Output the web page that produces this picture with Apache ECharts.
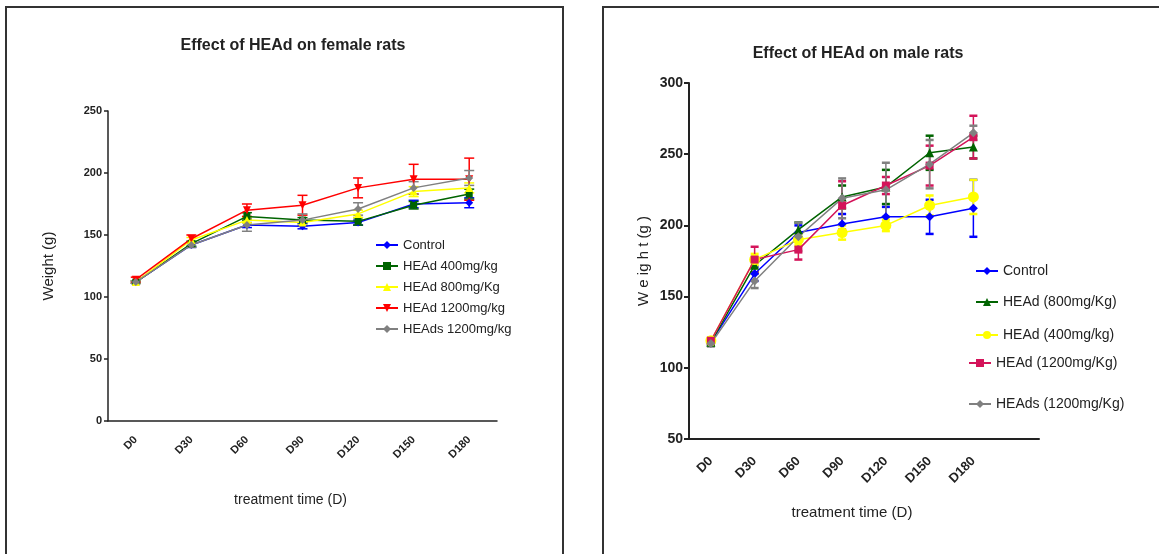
<!DOCTYPE html>
<html>
<head>
<meta charset="utf-8">
<title>Effect of HEAd on rats</title>
<script src="https://cdn.jsdelivr.net/npm/echarts@6/dist/echarts.min.js"></script>
<style>
  html, body { margin: 0; padding: 0; background: #fff; }
  #chart { width: 1159px; height: 554px; }
</style>
</head>
<body>
<div id="chart"></div>
<script>
// x categories (both panels)
var days = ['D0', 'D30', 'D60', 'D90', 'D120', 'D150', 'D180'];

// female rats, mean weight (g) and error
var fControl = [112, 142, 158, 157, 160, 175, 176];
var fHEAd400 = [112, 143, 165, 162, 161, 174, 183];
var fHEAd800 = [112, 146, 162, 160, 167, 185, 188];
var fHEAd1200 = [114, 147, 170, 174, 188, 195, 195];
var fHEAds1200 = [112, 142, 158, 162, 171, 188, 196];
var fControlErr = [1, 2, 2, 2, 2, 3, 4];
var fHEAd400Err = [1, 2, 3, 2, 3, 3, 4];
var fHEAd800Err = [1, 2, 2, 2, 3, 4, 4];
var fHEAd1200Err = [2, 3, 5, 8, 8, 12, 17];
var fHEAds1200Err = [1, 2, 5, 5, 5, 5, 6];

// male rats, mean weight (g) and error
var mControl = [118, 166, 195, 201, 206, 206, 212];
var mHEAd800 = [118, 172, 197, 220, 227, 251, 255];
var mHEAd400 = [119, 176, 190, 195, 200, 214, 220];
var mHEAd1200 = [119, 176, 183, 214, 228, 242, 262];
var mHEAds1200 = [117, 161, 192, 219, 225, 243, 265];
var mControlErr = [2, 5, 5, 7, 7, 12, 20];
var mHEAd800Err = [2, 5, 5, 8, 12, 12, 8];
var mHEAd400Err = [2, 4, 4, 5, 4, 7, 12];
var mHEAd1200Err = [2, 9, 7, 17, 6, 14, 15];
var mHEAds1200Err = [2, 5, 10, 14, 19, 17, 5];

// y ticks
var fTicks = { min: 0, max: 250, interval: 50 };
var mTicks = { min: 50, max: 300, interval: 50 };

var FONT = "'Liberation Sans', Arial, sans-serif";
var INK = '#222';
var TRI_DOWN = 'path://M0,0 L10,0 L5,10 Z';

var chart = echarts.init(document.getElementById('chart'));

function errorBars(capHalf, capWidth) {
    return function (params, api) {
        var x = api.value(0), y = api.value(1), e = api.value(2);
        var hi = api.coord([x, y + e]);
        var lo = api.coord([x, y - e]);
        var c = api.visual('color');
        return {
            type: 'group',
            children: [
                { type: 'line', shape: { x1: hi[0], y1: hi[1], x2: lo[0], y2: lo[1] }, style: { stroke: c, lineWidth: 1.5 } },
                { type: 'line', shape: { x1: hi[0] - capHalf, y1: hi[1], x2: hi[0] + capHalf, y2: hi[1] }, style: { stroke: c, lineWidth: capWidth } },
                { type: 'line', shape: { x1: lo[0] - capHalf, y1: lo[1], x2: lo[0] + capHalf, y2: lo[1] }, style: { stroke: c, lineWidth: capWidth } }
            ]
        };
    };
}

function lineSeries(name, data, color, symbol, size, idx) {
    return {
        name: name, type: 'line', xAxisIndex: idx, yAxisIndex: idx,
        data: data, symbol: symbol, symbolSize: size,
        itemStyle: { color: color }, lineStyle: { color: color, width: 1.5 },
        emphasis: { disabled: true }, z: 3
    };
}

function errSeries(name, data, err, color, idx, capHalf, capWidth) {
    return {
        name: name + ' err', type: 'custom', xAxisIndex: idx, yAxisIndex: idx,
        itemStyle: { color: color },
        renderItem: errorBars(capHalf, capWidth),
        encode: { x: 0, y: 1 },
        data: data.map(function (v, i) { return [i, v, err[i]]; }),
        z: 2, silent: true
    };
}

var female = [
    ['Control', fControl, fControlErr, '#0000ff', 'diamond', 8],
    ['HEAd 400mg/kg', fHEAd400, fHEAd400Err, '#006400', 'rect', 7],
    ['HEAd 800mg/Kg', fHEAd800, fHEAd800Err, '#ffff00', 'triangle', 8],
    ['HEAd 1200mg/kg', fHEAd1200, fHEAd1200Err, '#ff0000', TRI_DOWN, 8],
    ['HEAds 1200mg/kg', fHEAds1200, fHEAds1200Err, '#808080', 'diamond', 8]
];
var male = [
    ['Control ', mControl, mControlErr, '#0000ff', 'diamond', 9],
    ['HEAd (800mg/Kg)', mHEAd800, mHEAd800Err, '#006400', 'triangle', 9],
    ['HEAd (400mg/kg)', mHEAd400, mHEAd400Err, '#ffff00', 'circle', 11],
    ['HEAd (1200mg/Kg)', mHEAd1200, mHEAd1200Err, '#d4145a', 'rect', 8],
    ['HEAds (1200mg/Kg)', mHEAds1200, mHEAds1200Err, '#808080', 'diamond', 9]
];

var series = [];
female.forEach(function (s) {
    series.push(errSeries(s[0], s[1], s[2], s[3], 0, 5, 1.5));
    series.push(lineSeries(s[0], s[1], s[3], s[4], s[5], 0));
});
male.forEach(function (s) {
    series.push(errSeries(s[0], s[1], s[2], s[3], 1, 4, 2.5));
    series.push(lineSeries(s[0], s[1], s[3], s[4], s[5], 1));
});

// right panel legend entries sit at uneven heights
var maleLegendPos = [[975, 264], [975, 295], [975, 328], [968, 356], [968, 397]];
var legends = [{
    data: female.map(function (s) { return s[0]; }),
    orient: 'vertical', left: 375, top: 238, padding: 0,
    itemWidth: 22, itemHeight: 10, itemGap: 7,
    textStyle: { fontFamily: FONT, fontSize: 13, color: INK, lineHeight: 14 }
}];
male.forEach(function (s, i) {
    legends.push({
        data: [s[0]], left: maleLegendPos[i][0], top: maleLegendPos[i][1], padding: 0,
        itemWidth: 22, itemHeight: 10,
        textStyle: { fontFamily: FONT, fontSize: 14, color: INK, lineHeight: 14 }
    });
});

var axisLine = { lineStyle: { color: INK, width: 1.5 } };

var option = {
    animation: false,
    backgroundColor: '#fff',
    graphic: [
        { type: 'rect', shape: { x: 6, y: 7, width: 557, height: 620 }, style: { fill: 'none', stroke: '#333', lineWidth: 2 } },
        { type: 'rect', shape: { x: 603, y: 7, width: 620, height: 620 }, style: { fill: 'none', stroke: '#333', lineWidth: 2 } }
    ],
    title: [
        { text: 'Effect of HEAd on female rats', left: 288, top: 33, textAlign: 'center',
          textStyle: { fontFamily: FONT, fontSize: 16, fontWeight: 'bold', color: INK } },
        { text: 'Effect of HEAd on male rats', left: 853, top: 41, textAlign: 'center',
          textStyle: { fontFamily: FONT, fontSize: 16, fontWeight: 'bold', color: INK } }
    ],
    legend: legends,
    grid: [
        { left: 108, top: 111, width: 389, height: 310 },
        { left: 689, top: 83, width: 350, height: 356 }
    ],
    xAxis: [{
        type: 'category', gridIndex: 0, data: days, boundaryGap: true,
        name: 'treatment time (D)', nameLocation: 'middle', nameGap: 72,
        nameTextStyle: { fontFamily: FONT, fontSize: 14, color: INK, padding: [0, 24, 0, 0] },
        axisLine: axisLine,
        axisTick: { alignWithLabel: true, length: 5, lineStyle: { color: INK, width: 1.5 } },
        axisLabel: { rotate: 45, fontFamily: FONT, fontSize: 11, fontWeight: 'bold', color: INK, margin: 17 },
        splitLine: { show: false }
    }, {
        type: 'category', gridIndex: 1, data: days.concat(['']), boundaryGap: true,
        name: 'treatment time (D)', nameLocation: 'middle', nameGap: 66,
        nameTextStyle: { fontFamily: FONT, fontSize: 15, color: INK, padding: [0, 24, 0, 0] },
        axisLine: { lineStyle: { color: INK, width: 2 } },
        axisTick: {
            alignWithLabel: true, length: 5, lineStyle: { color: INK, width: 2 },
            interval: function (i) { return i < days.length; }
        },
        axisLabel: { rotate: 45, fontFamily: FONT, fontSize: 13, fontWeight: 'bold', color: INK, margin: 20 },
        splitLine: { show: false }
    }],
    yAxis: [{
        type: 'value', gridIndex: 0, min: fTicks.min, max: fTicks.max, interval: fTicks.interval,
        name: 'Weight (g)', nameLocation: 'middle', nameGap: 52, nameRotate: 90,
        nameTextStyle: { fontFamily: FONT, fontSize: 15, color: INK },
        axisLine: { show: true, lineStyle: { color: INK, width: 1.5 } },
        axisTick: { show: true, length: 4, lineStyle: { color: INK, width: 1.5 } },
        axisLabel: { fontFamily: FONT, fontSize: 11, fontWeight: 'bold', color: INK, margin: 6 },
        splitLine: { show: false }
    }, {
        type: 'value', gridIndex: 1, min: mTicks.min, max: mTicks.max, interval: mTicks.interval,
        name: 'W e ig h t (g )', nameLocation: 'middle', nameGap: 38, nameRotate: 90,
        nameTextStyle: { fontFamily: FONT, fontSize: 15, color: INK },
        axisLine: { show: true, lineStyle: { color: INK, width: 2 } },
        axisTick: { show: true, length: 5, lineStyle: { color: INK, width: 2 } },
        axisLabel: { fontFamily: FONT, fontSize: 14, fontWeight: 'bold', color: INK, margin: 6 },
        splitLine: { show: false }
    }],
    series: series
};

chart.setOption(option);
</script>
</body>
</html>
